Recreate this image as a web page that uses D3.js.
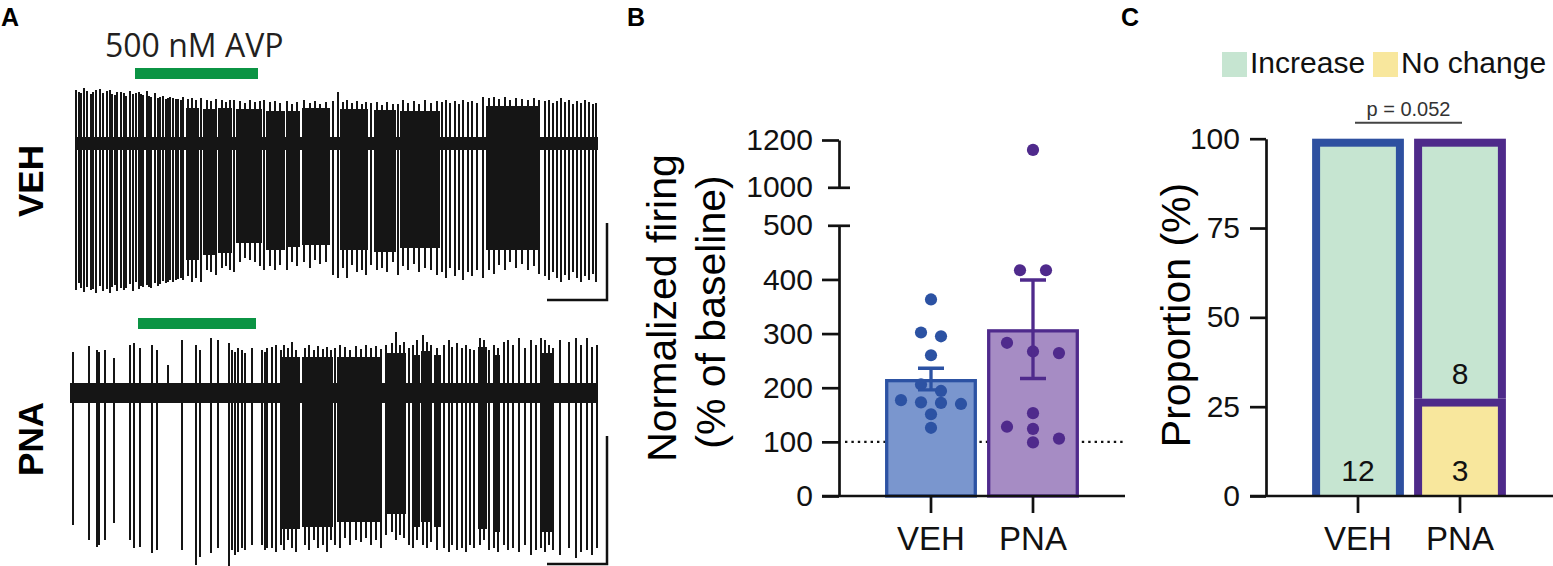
<!DOCTYPE html>
<html><head><meta charset="utf-8">
<script src="https://cdn.jsdelivr.net/npm/d3@7"></script>
<style>body{margin:0;background:#fff;} svg{display:block;}</style>
</head><body>
<svg id="fig" width="1553" height="566"></svg>
<script>
// ================= DATA =================
// Panel A – extracellular recordings. Spikes: [time (s), upward peak, downward trough] (pA from baseline)
const vehSpikes = [
 [1,53,147],[4,51,140],[6,50,145],[9,55,149],[12,52,144],[16,49,147],[18,51,146],[21,53,150],[25,54,143],[28,50,148],
 [32,52,146],[35,53,150],[37,49,144],[40,48,142],[42,51,148],[46,51,145],[49,50,147],[51,47,145],[55,52,141],[58,49,148],
 [61,50,139],[64,51,146],[66,49,143],[68,48,144],[72,52,142],[74,47,144],[76,46,145],[80,50,140],[83,45,143],[85,46,141],
 [88,47,138],[91,44,140],[93,45,139],[95,46,137],[98,45,139],[101,44,137],[103,44,136],[106,43,135],
 [108,46,137],[113,44,133],[117,45,139],[121,43,135],[126,45,139],[132,43,127],[136,42,129],[141,44,132],[147,43,125],
 [151,41,123],[155,43,127],[159,43,129],[165,42,119],[170,40,115],[175,43,117],[180,41,119],[185,42,123],[189,43,127],
 [195,41,123],[200,42,127],[205,40,122],[212,42,127],[217,39,119],[222,41,123],[229,43,119],[235,40,125],[240,42,117],
 [245,39,121],[251,41,119],[258,42,132],[263,51,135],[268,41,125],[272,43,135],[277,40,122],[282,42,129],[287,39,127],
 [291,41,132],[296,40,122],[302,41,127],[307,38,125],[312,41,129],[318,39,119],[323,39,132],[328,43,123],[333,40,127],
 [339,42,121],[344,39,129],[350,43,125],[356,40,127],[362,42,132],[367,41,129],[371,43,135],[375,40,125],[380,42,133],
 [384,39,127],[388,43,137],[393,41,129],[397,42,133],[402,40,127],[408,46,135],[414,45,127],[419,46,131],[424,44,122],
 [430,46,127],[435,43,119],[441,45,125],[447,44,121],[453,43,127],[459,45,123],[464,43,131],[470,42,133],[474,43,137],
 [478,40,129],[482,42,135],[486,45,139],[490,41,132],[494,43,137],[498,39,129],[502,42,135],[506,40,139],[510,43,133],
 [514,41,137],[518,39,131],[521,40,139]
];
// dense bursts that render as near-solid blocks: [start, end, up, down]
const vehBursts = [
 [111,124,40,125],[128,140,39,120],[143,157,40,118],[161,187,39,108],[191,210,37,115],[213,225,37,112],
 [227,255,40,110],[265,293,39,115],[299,321,38,117],[325,365,37,113],[411,465,42,115]
];
const pnaSpikes = [
 [3,41,132],[19,47,147],[27,43,154],[29,41,152],[35,43,147],[44,35,130],[60,48,147],[64,50,155],[70,45,154],
 [82,48,160],[87,43,157],[98,28,7],[112,53,157],[126,48,172],[130,43,164],[141,55,160],[148,53,155],[159,50,174],
 [162,43,157],[165,41,162],[168,45,159],[172,43,155],[175,40,157],[182,45,152],[192,43,152],[195,41,157],[197,45,155],
 [202,46,155],[206,48,159],
 [211,43,152],[214,48,157],[218,45,147],[222,51,155],[226,43,159],[235,45,152],[239,48,157],[244,43,147],[248,47,155],
 [253,44,152],[257,46,159],[261,43,147],[265,45,152],[270,48,155],[275,46,145],[280,43,152],[286,47,147],[291,44,149],
 [296,48,145],[301,45,152],[306,47,147],[311,44,155],[316,48,142],[322,50,139],[326,61,147],[330,48,142],[334,51,145],
 [339,45,152],[343,48,155],[347,53,147],[353,58,152],[357,51,155],[361,48,149],[367,45,157],[374,48,155],[379,53,159],
 [382,46,152],[387,50,157],[392,45,155],[396,48,159],[400,44,152],[404,43,155],[410,55,152],[414,53,147],[419,43,157],
 [424,48,155],[428,45,159],[434,51,152],[438,53,157],[443,48,155],[449,55,159],[455,45,152],[461,53,162],[466,48,157],
 [471,55,155],[475,53,159],[479,48,152],[483,45,157],[490,53,162],[499,51,155],[506,55,165],[511,48,159],[517,55,157],
 [522,46,162],[527,48,155]
];
const pnaBursts = [
 [211,230,41,144],[232,263,41,142],[267,312,41,137],[316,336,45,129],[342,350,43,142],[351,362,47,137],
 [364,371,43,142],[408,417,51,144],[424,430,43,147],[472,482,45,147]
];
const traceDuration = [523, 528];        // s
const baselineNoise = [[6, 7], [10, 10]]; // pA band (up, down)
const avpWindow = [[60, 183], [68, 186]]; // s
const scaleBars = [[77, 60], [128, 60]];  // [pA, s]
const traceNames = ["VEH", "PNA"];
const drugLabel = "500 nM AVP";

// Panel B – normalized firing
const groups = ["VEH", "PNA"];
const vehValues = [363, 302, 295, 260, 206, 194, 177, 173, 172, 170, 151, 126];
const pnaValues = [1158, 417, 417, 283, 267, 264, 153, 128, 124, 106, 99];
const groupMeans = [216, 308];
const groupSEM = [20, 91];
const lowTicks = [0, 100, 200, 300, 400, 500];
const highTicks = [1000, 1200];
const baselineRef = 100;

// Panel C – proportion of responders
const responseTypes = ["Increase", "No change"];
const increaseCounts = [12, 8];
const noChangeCounts = [0, 3];
const propTicks = [0, 25, 50, 75, 100];
const pValueText = "p = 0.052";

// ================= STYLE =================
const FONT = "'Liberation Sans', Arial, Helvetica, sans-serif";
const C = {
  trace: "#151515", avp: "#0b9444",
  vehFill: "#7a96ce", vehLine: "#2c52a3",
  pnaFill: "#a68cc4", pnaLine: "#4f2a8c",
  inc: "#c6e5d1", noch: "#f8e79d",
  cVeh: "#2e50a0", cPna: "#4e2a8a"
};

const svg = d3.select("#fig");

[["A", 1], ["B", 627], ["C", 1121]].forEach(([t, x]) =>
  svg.append("text").attr("x", x).attr("y", 26).text(t)
    .attr("font-family", FONT).attr("font-weight", "bold").attr("font-size", 25));

// ================= PANEL A =================
const traceLayout = [
  {x0: 75, x1: 598, base: 143, avpY: 68, label: 181, sbBottom: 300},
  {x0: 70, x1: 598, base: 393, avpY: 318, label: 439, sbBottom: 564}
];
const allSpikes = [vehSpikes, pnaSpikes];
const allBursts = [vehBursts, pnaBursts];

svg.append("text").attr("x", 105).attr("y", 57).text(drugLabel)
  .attr("font-family", "'Open Sans', sans-serif").attr("font-size", 32).attr("fill", "#231f20");

traceLayout.forEach((L, k) => {
  const g = svg.append("g");
  const x = d3.scaleLinear().domain([0, traceDuration[k]]).range([L.x0, L.x1]);
  const y = d3.scaleLinear().domain([-200, 100]).range([L.base + 200, L.base - 100]);
  g.append("rect").attr("x", x(avpWindow[k][0])).attr("width", x(avpWindow[k][1]) - x(avpWindow[k][0]))
    .attr("y", L.avpY).attr("height", 11).attr("fill", C.avp);
  g.append("rect").attr("x", x(0)).attr("width", x(traceDuration[k]) - x(0))
    .attr("y", y(baselineNoise[k][0])).attr("height", y(-baselineNoise[k][1]) - y(baselineNoise[k][0]))
    .attr("fill", C.trace);
  g.selectAll("rect.burst").data(allBursts[k]).join("rect").attr("class", "burst")
    .attr("x", d => x(d[0])).attr("width", d => x(d[1]) - x(d[0]))
    .attr("y", d => y(d[2] - 5)).attr("height", d => y(-(d[3] - 8)) - y(d[2] - 5)).attr("fill", C.trace);
  g.selectAll("line.spk").data(allSpikes[k]).join("line").attr("class", "spk")
    .attr("x1", d => x(d[0])).attr("x2", d => x(d[0]))
    .attr("y1", d => y(d[1])).attr("y2", d => y(-d[2]))
    .attr("stroke", C.trace).attr("stroke-width", 2);
  const sbx = L.x1 + 9, sby = L.sbBottom;
  const tpx = x(scaleBars[k][1]) - x(0);
  const apx = y(0) - y(scaleBars[k][0]);
  g.append("path").attr("d", `M${sbx - tpx},${sby}H${sbx}V${sby - apx}`)
    .attr("fill", "none").attr("stroke", "#111").attr("stroke-width", 2.5);
  g.append("text").attr("transform", `translate(43,${L.label}) rotate(-90)`)
    .attr("text-anchor", "middle").text(traceNames[k])
    .attr("font-family", FONT).attr("font-weight", "bold").attr("font-size", 35);
});

// ================= PANEL B =================
const gB = svg.append("g");
const yLow = d3.scaleLinear().domain([0, 500]).range([496, 225.3]);
const yHigh = d3.scaleLinear().domain([1000, 1200]).range([187.3, 140]);
const yB = v => v > 500 ? yHigh(v) : yLow(v);
const xB = d3.scaleBand().domain(groups).range([880, 1084]).paddingInner(0.1).paddingOuter(0.05);
const axB = 839;

gB.append("line").attr("x1", axB + 6).attr("x2", 1125).attr("y1", yLow(baselineRef)).attr("y2", yLow(baselineRef))
  .attr("stroke", "#111").attr("stroke-width", 2.4).attr("stroke-dasharray", "2.4,4");

const fills = [C.vehFill, C.pnaFill], lines = [C.vehLine, C.pnaLine];
gB.selectAll("rect.bar").data(groups).join("rect").attr("class", "bar")
  .attr("x", d => xB(d) + 1.6).attr("width", xB.bandwidth() - 3.2)
  .attr("y", (d, i) => yLow(groupMeans[i]) + 1.6).attr("height", (d, i) => 496 - yLow(groupMeans[i]) - 1.6)
  .attr("fill", (d, i) => fills[i]).attr("stroke", (d, i) => lines[i]).attr("stroke-width", 3.3);

function swarm(values, spread, thresh) {
  const idx = values.map((v, i) => i).sort((a, b) => values[b] - values[a]);
  const offs = new Array(values.length).fill(0);
  let row = [];
  const flush = () => { const n = row.length; row.forEach((i, k) => offs[i] = (k - (n - 1) / 2) * spread); row = []; };
  idx.forEach(i => {
    if (row.length && Math.abs(yB(values[i]) - yB(values[row[0]])) > thresh) flush();
    row.push(i);
  });
  flush();
  return offs;
}
[[vehValues, 20], [pnaValues, 26]].forEach(([vals, spread], gi) => {
  const offs = swarm(vals, spread, 12);
  const cx = xB(groups[gi]) + xB.bandwidth() / 2;
  gB.selectAll(null).data(vals).join("circle")
    .attr("cx", (d, i) => cx + offs[i]).attr("cy", d => yB(d)).attr("r", 6.1)
    .attr("fill", lines[gi]);
  const m = groupMeans[gi], s = groupSEM[gi], cw = 13;
  gB.append("path")
    .attr("d", `M${cx},${yLow(m + s)}V${yLow(m - s)}M${cx - cw},${yLow(m + s)}H${cx + cw}M${cx - cw},${yLow(m - s)}H${cx + cw}`)
    .attr("stroke", lines[gi]).attr("stroke-width", 3.3).attr("fill", "none");
});

function styleAxis(sel, fs) {
  sel.selectAll("path.domain").attr("stroke", "#111").attr("stroke-width", 2.7);
  sel.selectAll(".tick line").attr("stroke", "#111").attr("stroke-width", 2.7);
  sel.selectAll(".tick text").attr("font-family", FONT).attr("font-size", fs).attr("fill", "#111");
}
const fmt = d3.format("d");
const axLow = gB.append("g").attr("transform", `translate(${axB},0)`)
  .call(d3.axisLeft(yLow).tickValues(lowTicks).tickFormat(fmt).tickSize(17).tickSizeOuter(0).tickPadding(9));
const axHigh = gB.append("g").attr("transform", `translate(${axB},0)`)
  .call(d3.axisLeft(yHigh).tickValues(highTicks).tickFormat(fmt).tickSize(17).tickSizeOuter(0).tickPadding(9));
styleAxis(axLow, 30); styleAxis(axHigh, 30);
[axLow, axHigh].forEach(a => a.selectAll(".tick").filter(d => d === 500 || d === 1000)
  .select("line").attr("x1", -11).attr("x2", 11));

gB.append("line").attr("x1", axB - 17).attr("x2", 1125).attr("y1", 496).attr("y2", 496)
  .attr("stroke", "#111").attr("stroke-width", 2.7);
const axBx = gB.append("g").attr("transform", "translate(0,496)")
  .call(d3.axisBottom(xB).tickSize(17).tickPadding(14));
axBx.select("path.domain").remove();
styleAxis(axBx, 33);

gB.append("text").attr("transform", "translate(676,308) rotate(-90)").attr("text-anchor", "middle")
  .text("Normalized firing").attr("font-family", FONT).attr("font-size", 41);
gB.append("text").attr("transform", "translate(725,312) rotate(-90)").attr("text-anchor", "middle")
  .text("(% of baseline)").attr("font-family", FONT).attr("font-size", 41);

// ================= PANEL C =================
const gC = svg.append("g");
const yC = d3.scaleLinear().domain([0, 100]).range([496, 138.7]);
const xC = d3.scaleBand().domain(groups).range([1307, 1511]).paddingInner(0.1).paddingOuter(0.05);
const axC = 1266, bw = 8;
const borders = [C.cVeh, C.cPna];

groups.forEach((gname, gi) => {
  const total = increaseCounts[gi] + noChangeCounts[gi];
  const pNo = noChangeCounts[gi] / total * 100;
  const segs = [
    {lo: 0, hi: pNo, n: noChangeCounts[gi], fill: C.noch},
    {lo: pNo, hi: 100, n: increaseCounts[gi], fill: C.inc}
  ].filter(s => s.n > 0);
  const x0 = xC(gname), w = xC.bandwidth(), cx = x0 + w / 2;
  segs.forEach(s => {
    const yt = yC(s.hi), yb = yC(s.lo);
    gC.append("rect").attr("x", x0).attr("y", yt).attr("width", w).attr("height", yb - yt).attr("fill", borders[gi]);
    gC.append("rect").attr("x", x0 + bw).attr("y", yt + bw).attr("width", w - 2 * bw).attr("height", yb - yt - bw).attr("fill", s.fill);
    gC.append("text").attr("x", cx).attr("y", yb - 15).attr("text-anchor", "middle").text(s.n)
      .attr("font-family", FONT).attr("font-size", 30).attr("fill", "#111");
  });
});

const axCy = gC.append("g").attr("transform", `translate(${axC},0)`)
  .call(d3.axisLeft(yC).tickValues(propTicks).tickSize(16).tickSizeOuter(0).tickPadding(10));
styleAxis(axCy, 30);
gC.append("line").attr("x1", axC - 16).attr("x2", 1553).attr("y1", 496).attr("y2", 496)
  .attr("stroke", "#111").attr("stroke-width", 2.7);
const axCx = gC.append("g").attr("transform", "translate(0,496)")
  .call(d3.axisBottom(xC).tickSize(17).tickPadding(14));
axCx.select("path.domain").remove();
styleAxis(axCx, 33);

gC.append("text").attr("transform", "translate(1190,315) rotate(-90)").attr("text-anchor", "middle")
  .text("Proportion (%)").attr("font-family", FONT).attr("font-size", 41);

const pc1 = xC("VEH") + xC.bandwidth() / 2 - 3, pc2 = xC("PNA") + xC.bandwidth() / 2 + 2;
gC.append("line").attr("x1", pc1).attr("x2", pc2).attr("y1", 122.7).attr("y2", 122.7)
  .attr("stroke", "#444").attr("stroke-width", 2);
gC.append("text").attr("x", (pc1 + pc2) / 2).attr("y", 116).attr("text-anchor", "middle").text(pValueText)
  .attr("font-family", FONT).attr("font-size", 20).attr("fill", "#333");

const legX = [1222, 1373], legFill = [C.inc, C.noch];
responseTypes.forEach((t, i) => {
  gC.append("rect").attr("x", legX[i]).attr("y", 52).attr("width", 25).attr("height", 25).attr("fill", legFill[i]);
  gC.append("text").attr("x", legX[i] + 28).attr("y", 73).text(t)
    .attr("font-family", FONT).attr("font-size", 30).attr("fill", "#111");
});
</script>
</body></html>
